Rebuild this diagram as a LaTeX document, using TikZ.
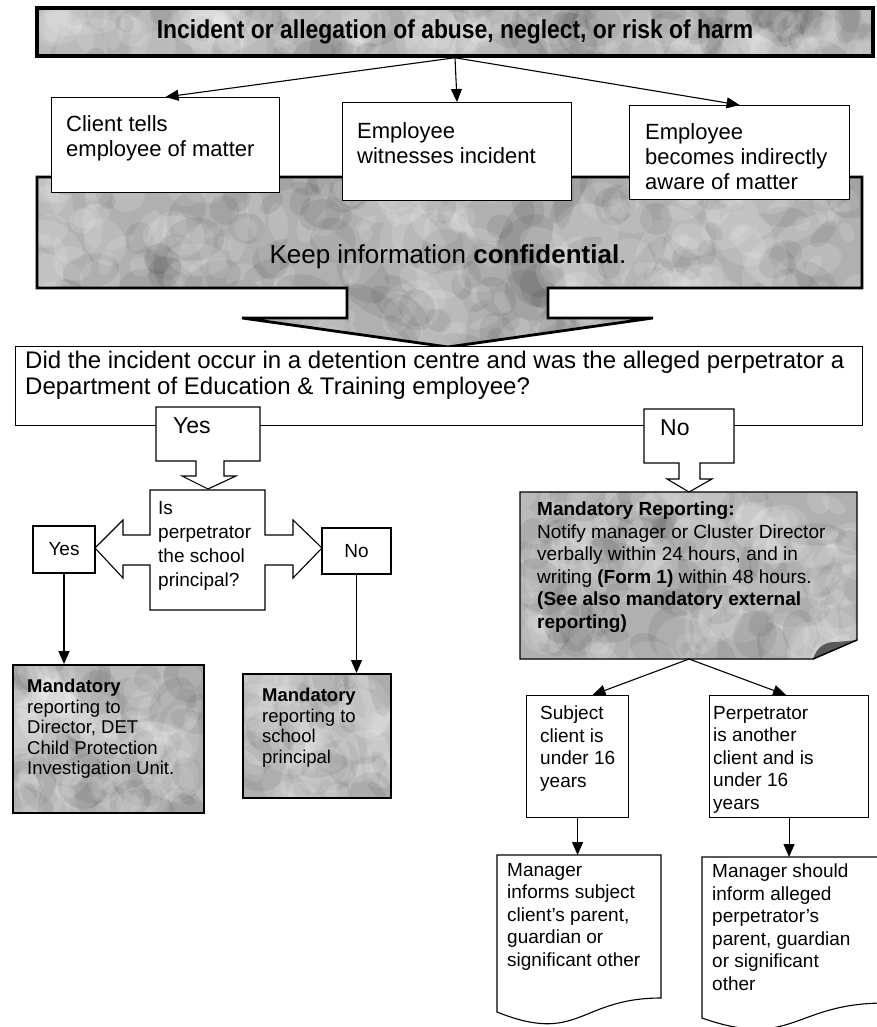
\documentclass[tikz,border=0pt]{standalone}
\usepackage{fontspec}
\setmainfont{Liberation Sans}
\usepackage{graphicx}
\usetikzlibrary{arrows.meta,calc}

\definecolor{grain}{gray}{0.69}
\definecolor{curl}{gray}{0.35}

% font sizes (1pt = 1 unit of the picture)
\newcommand\fsA{\fontsize{22}{25}\selectfont}
\newcommand\fsQ{\fontsize{24}{26}\selectfont}
\newcommand\fsB{\fontsize{23}{26}\selectfont}
\newcommand\fsC{\fontsize{19}{22.5}\selectfont}
\newcommand\fsM{\fontsize{18.5}{20.5}\selectfont}
\newcommand\fsP{\fontsize{19}{24}\selectfont}

% cloudy stone texture inside a filled shape
\pgfmathsetseed{1234}
\newcommand\mottle[1]{%
  \foreach \k in {1,...,#1}{%
    \pgfmathsetmacro\grU{rnd}%
    \pgfmathsetmacro\grV{rnd}%
    \pgfmathsetmacro\grR{8+26*rnd}%
    \pgfmathsetmacro\grS{(0.3+0.7*rnd)*\grR}%
    \pgfmathsetmacro\grA{180*rnd}%
    \pgfmathsetmacro\grT{rnd}%
    \ifdim\grT pt<0.65pt \def\grC{white}\def\grO{0.13}\else\def\grC{black}\def\grO{0.07}\fi
    \fill[\grC, opacity=\grO]
      let \p1=(path picture bounding box.south west),
          \p2=(path picture bounding box.north east) in
      ({\x1+\grU*(\x2-\x1)}, {\y1+\grV*(\y2-\y1)})
      ellipse [x radius=\grR pt, y radius=\grS pt, rotate=\grA];
  }}

\tikzset{
  plainbox/.style={draw=black, line width=1.1pt, fill=white, inner sep=0pt},
  greybox/.style={draw=black, line width=1.8pt, fill=grain, inner sep=0pt,
    path picture={\mottle{#1}}},
  words/.style={anchor=north west, inner sep=0pt, align=left},
  link/.style={line width=1.1pt, -{Triangle[length=13pt,width=11pt]}},
  shapeline/.style={draw=black, line width=1.1pt, fill=white, line join=miter},
}

\begin{document}
\begin{tikzpicture}[x=1pt,y=-1pt]
\useasboundingbox (0,0) rectangle (877,1027);
\fill[white] (0,0) rectangle (877,1027);

% ---------- heading ----------
\node[greybox=160, line width=3.5pt, minimum width=836pt, minimum height=48pt] (head) at (455,32)
  {\bfseries\fontsize{26}{30}\selectfont\scalebox{0.88}[1]{Incident or allegation of abuse, neglect, or risk of harm}};

% ---------- confidentiality band with down arrow ----------
\path[draw=black, line width=2.8pt, line join=miter, fill=grain, path picture={\mottle{300}}]
  (37,177) -- (862,177) -- (862,288) -- (548,288) -- (548,318) -- (653,318)
  -- (448,347) -- (242,318) -- (347,318) -- (347,288) -- (37,288) -- cycle;
\node[font=\fontsize{26}{30}\selectfont] (keep) at (448,257) {Keep information \textbf{confidential}.};

% ---------- how the matter becomes known ----------
\node[plainbox, anchor=north west, minimum width=228pt, minimum height=95pt] (b1) at (51,97) {};
\node[plainbox, anchor=north west, minimum width=229pt, minimum height=98pt] (b2) at (342,102) {};
\node[plainbox, anchor=north west, minimum width=220pt, minimum height=94pt] (b3) at (629,105) {};
\node[words, font=\fsA] (b1t) at (66,115) {Client tells\\employee of matter};
\node[words, font=\fsA] (b2t) at (357,122) {Employee\\witnesses incident};
\node[words, font=\fsA] (b3t) at (645,123) {Employee\\becomes indirectly\\aware of matter};

\draw[link] (head.south) -- (b1.north);
\draw[link] (head.south) -- (b2.north);
\draw[link] (head.south) -- (b3.north);

% ---------- detention centre question ----------
\node[plainbox, anchor=north west, minimum width=847pt, minimum height=79pt] (q) at (15,346) {};
\node[words, font=\fsQ] (qt) at (25,351)
  {Did the incident occur in a detention centre and was the alleged perpetrator a\\Department of Education \& Training employee?};

% Yes / No down-arrow callouts
\path[shapeline] (156,407) -- (260,407) -- (260,461) -- (224,461) -- (224,476) -- (236,476)
  -- (208,489) -- (182,476) -- (196,476) -- (196,461) -- (156,461) -- cycle;
\node[words, font=\fsB] (yes1) at (173,417) {Yes};
\path[shapeline] (644,409) -- (734,409) -- (734,463) -- (700,463) -- (700,479) -- (712,479)
  -- (689,492) -- (667,479) -- (679,479) -- (679,463) -- (644,463) -- cycle;
\node[words, font=\fsB] (no1) at (660,419) {No};

% ---------- school principal question (left-right arrow callout) ----------
\path[shapeline] (150,490) -- (265,490) -- (265,535) -- (293,535) -- (293,520) -- (322,548)
  -- (293,578) -- (293,565) -- (265,565) -- (265,610) -- (150,610) -- (150,565)
  -- (123,565) -- (123,578) -- (95,548) -- (123,520) -- (123,535) -- (150,535) -- cycle;
\node[words, font=\fsP] (pq) at (158,501) {Is\\perpetrator\\the school\\principal?};

\node[plainbox, minimum width=62pt, minimum height=47pt, font=\fsC] (ys) at (64,549.5) {Yes};
\node[plainbox, minimum width=69pt, minimum height=46pt, font=\fsC] (ns) at (356.5,551) {No};

\node[greybox=110, anchor=north west, minimum width=191pt, minimum height=148pt] (m1) at (12,664) {};
\node[words, font=\fsM] (m1t) at (27,679)
  {\textbf{Mandatory}\\reporting to\\Director, DET\\Child Protection\\Investigation Unit.};
\node[greybox=80, anchor=north west, minimum width=148pt, minimum height=124pt] (m2) at (242,673) {};
\node[words, font=\fsM] (m2t) at (262,688)
  {\textbf{Mandatory}\\reporting to\\school\\principal};

\draw[link] (ys.south) -- (ys.south |- m1.north);
\draw[link] (ns.south) -- (ns.south |- m2.north);

% ---------- mandatory reporting note with turned corner ----------
\path[draw=black, line width=1.3pt, line join=miter, fill=grain, path picture={\mottle{170}}]
  (520,492) -- (857,492) -- (857,640) -- (813,659) -- (520,659) -- cycle;
\fill[curl] (813,659) .. controls (816,650) and (822,641) .. (838,642) -- (857,640) -- cycle;
\draw[line width=1.3pt] (813,659) -- (857,640);
\node[words, font=\fsC] (nt) at (537,502)
  {\textbf{Mandatory Reporting:}\\Notify manager or Cluster Director\\verbally within 24 hours, and in\\writing \textbf{(Form 1)} within 48 hours.\\\textbf{(See also mandatory external}\\\textbf{reporting)}};
\coordinate (nb) at (689,659);

% ---------- clients under 16 ----------
\node[plainbox, anchor=north west, minimum width=102pt, minimum height=122pt] (s1) at (526,695) {};
\node[words, font=\fsC] (s1t) at (540,706) {Subject\\client is\\under 16\\years};
\node[plainbox, anchor=north west, minimum width=159pt, minimum height=122pt] (s2) at (709,695) {};
\node[words, font=\fsC] (s2t) at (713,706) {Perpetrator\\is another\\client and is\\under 16\\years};

\draw[link] (nb) -- ([xshift=15pt]s1.north);
\draw[link] (nb) -- ([xshift=-3pt]s2.north);

% ---------- informing parents (document shapes) ----------
\path[shapeline] (497,855) -- (661,855) -- (661,998) .. controls (579,998) and (579,1045) .. (497,1012) -- cycle;
\coordinate (d1) at (580,855);
\node[words, font=\fsC] (d1t) at (507,863)
  {Manager\\informs subject\\client's parent,\\guardian or\\significant other};
\path[shapeline] (702,857) -- (885,857) -- (885,1003) .. controls (793,1003) and (793,1050) .. (702,1018) -- cycle;
\coordinate (d2) at (785,857);
\node[words, font=\fsC] (d2t) at (712,864)
  {Manager should\\inform alleged\\perpetrator's\\parent, guardian\\or significant\\other};

\draw[link] (s1.south) -- (s1.south |- d1);
\draw[link] (s2.south) -- (s2.south |- d2);
\end{tikzpicture}
\end{document}
